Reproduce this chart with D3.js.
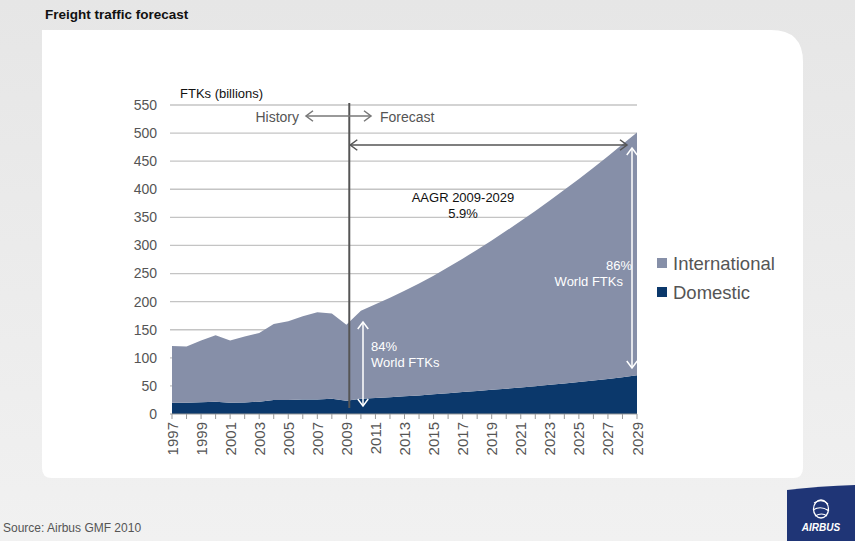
<!DOCTYPE html>
<html><head><meta charset="utf-8">
<script src="https://cdn.jsdelivr.net/npm/d3@7"></script>
<style>
html,body{margin:0;padding:0;}
body{width:855px;height:541px;overflow:hidden;font-family:"Liberation Sans",Arial,sans-serif;}
</style></head>
<body><svg id="c" width="855" height="541"></svg>
<script>
const years = d3.range(1997, 2030);
const domestic = [20,20,21,22,20,20.5,22,25,25,26,26,27,23.5,
  27,28.5,30,31.5,33,35,37,39,41,43,45,47,49.5,52,54.5,57,59.5,62.5,65.5,69];
const international = [101,100,110,118,111,117.5,122,135,140,148,155,152,135.5,
  157,167,177,188,199.5,211,224,237.5,251.5,266,281,296.5,312,328,344.5,361.5,379,396.5,414.5,432];
const yTicks = d3.range(0, 551, 50);
const xTickLabels = d3.range(1997, 2030, 2);
const seriesNames = ["International", "Domestic"];
const colors = {International: "#868fa8", Domestic: "#0b386b"};

const svg = d3.select("#c");
const defs = svg.append("defs");
const bg = defs.append("linearGradient").attr("id","bg").attr("x1",0).attr("y1",0).attr("x2",0).attr("y2",1);
bg.append("stop").attr("offset","0%").attr("stop-color","#e6e6e6");
bg.append("stop").attr("offset","100%").attr("stop-color","#f1f1f1");
svg.append("rect").attr("width",855).attr("height",541).attr("fill","url(#bg)");

// panel
const pL=42, pT=30, pR=803, pB=478, rTR=32, rB=10;
svg.append("path").attr("fill","#ffffff")
  .attr("d",`M${pL},${pT} L${pR-rTR},${pT} Q${pR},${pT} ${pR},${pT+rTR} L${pR},${pB-rB} Q${pR},${pB} ${pR-rB},${pB} L${pL+rB},${pB} Q${pL},${pB} ${pL},${pB-rB} Z`);

svg.append("text").attr("x",45).attr("y",19).attr("font-size",13.5).attr("font-weight","bold")
  .attr("fill","#111").text("Freight traffic forecast");

const x = d3.scaleLinear().domain([1997,2029]).range([172,637]);
const y = d3.scaleLinear().domain([0,550]).range([414,105]);

// gridlines
svg.append("g").selectAll("line").data(yTicks.filter(d=>d>0)).join("line")
  .attr("x1",170).attr("x2",637).attr("y1",d=>y(d)).attr("y2",d=>y(d))
  .attr("stroke","#c4c4c4").attr("stroke-width",1.3);

// stacked areas
const data = years.map((yr,i)=>({year:yr, Domestic:domestic[i], International:international[i]}));
const stack = d3.stack().keys(["Domestic","International"]);
const stacked = stack(data);
const area = d3.area().x(d=>x(d.data.year)).y0(d=>y(d[0])).y1(d=>y(d[1]));
svg.append("g").selectAll("path").data(stacked).join("path")
  .attr("d",area).attr("fill",d=>colors[d.key]);

// y axis labels
svg.append("g").selectAll("text").data(yTicks).join("text")
  .attr("x",157).attr("y",d=>y(d)).attr("dy","0.35em").attr("text-anchor","end")
  .attr("font-size",14).attr("fill","#555").text(d=>d);

// x axis
const xAxisG = svg.append("g");
xAxisG.append("line").attr("x1",170).attr("x2",637).attr("y1",y(0)).attr("y2",y(0)).attr("stroke","#999");
xAxisG.selectAll("line.t").data(years).join("line").attr("class","t")
  .attr("x1",d=>x(d)).attr("x2",d=>x(d)).attr("y1",y(0)).attr("y2",y(0)+5).attr("stroke","#999");
xAxisG.selectAll("text").data(xTickLabels).join("text")
  .attr("transform",d=>`translate(${x(d)+5.5},${y(0)+8}) rotate(-90)`)
  .attr("text-anchor","end").attr("font-size",15).attr("fill","#555").text(d=>d);

// axis title
svg.append("text").attr("x",180).attr("y",98).attr("font-size",13).attr("fill","#111").text("FTKs (billions)");

// divider line
const divX = x(2009.2);
svg.append("line").attr("x1",divX).attr("x2",divX).attr("y1",103).attr("y2",y(0)-6)
  .attr("stroke","#555").attr("stroke-width",2);

function chevH(g, xp, yp, dir, color, s){
  g.append("path").attr("d",`M${xp-dir*s},${yp-s*0.75} L${xp},${yp} L${xp-dir*s},${yp+s*0.75}`)
   .attr("fill","none").attr("stroke",color).attr("stroke-width",1.5);
}
function chevV(g, xp, yp, dir, color, s){
  g.append("path").attr("d",`M${xp-s*0.75},${yp-dir*s} L${xp},${yp} L${xp+s*0.75},${yp-dir*s}`)
   .attr("fill","none").attr("stroke",color).attr("stroke-width",1.5);
}
const ann = svg.append("g");
ann.append("text").attr("x",299).attr("y",122).attr("text-anchor","end").attr("font-size",14).attr("fill","#555").text("History");
ann.append("line").attr("x1",306).attr("x2",371).attr("y1",116).attr("y2",116).attr("stroke","#777").attr("stroke-width",1.5);
chevH(ann,306,116,-1,"#777",7); chevH(ann,371,116,1,"#777",7);
ann.append("text").attr("x",380).attr("y",122).attr("font-size",14).attr("fill","#555").text("Forecast");

ann.append("line").attr("x1",divX+1).attr("x2",627).attr("y1",145).attr("y2",145).attr("stroke","#555").attr("stroke-width",1.5);
chevH(ann,divX+1,145,-1,"#555",7); chevH(ann,627,145,1,"#555",7);
ann.append("text").attr("x",463).attr("y",202).attr("text-anchor","middle").attr("font-size",13).attr("fill","#111").text("AAGR 2009-2029");
ann.append("text").attr("x",463).attr("y",218).attr("text-anchor","middle").attr("font-size",13).attr("fill","#111").text("5.9%");

ann.append("line").attr("x1",363).attr("x2",363).attr("y1",322).attr("y2",406).attr("stroke","#fff").attr("stroke-width",1.5);
chevV(ann,363,322,-1,"#fff",7); chevV(ann,363,406,1,"#fff",7);
ann.append("text").attr("x",371).attr("y",351).attr("font-size",13).attr("fill","#fff").text("84%");
ann.append("text").attr("x",371).attr("y",367).attr("font-size",13).attr("fill","#fff").text("World FTKs");

ann.append("line").attr("x1",632).attr("x2",632).attr("y1",148).attr("y2",368).attr("stroke","#fff").attr("stroke-width",1.5);
chevV(ann,632,148,-1,"#fff",7); chevV(ann,632,368,1,"#fff",7);
ann.append("text").attr("x",619).attr("y",270).attr("text-anchor","middle").attr("font-size",13).attr("fill","#fff").text("86%");
ann.append("text").attr("x",623).attr("y",286).attr("text-anchor","end").attr("font-size",13).attr("fill","#fff").text("World FTKs");

// legend
const leg = svg.append("g").attr("transform","translate(657,258)");
leg.selectAll("g").data(seriesNames).join("g")
  .attr("transform",(d,i)=>`translate(0,${i*29})`)
  .each(function(d){
    const g=d3.select(this);
    g.append("rect").attr("width",10).attr("height",10).attr("fill",colors[d]);
    g.append("text").attr("x",16).attr("y",12).attr("font-size",18.5).attr("fill","#555").text(d);
  });

svg.append("text").attr("x",3).attr("y",532).attr("font-size",12).attr("fill","#555").text("Source: Airbus GMF 2010");

// logo
const logo = svg.append("g");
logo.append("path").attr("d","M787,490 Q820,486 855,485 L855,541 L787,541 Z").attr("fill","#1f3576");
logo.append("ellipse").attr("cx",821).attr("cy",509).attr("rx",7.5).attr("ry",9).attr("fill","none").attr("stroke","#fff").attr("stroke-width",1.3);
logo.append("path").attr("d","M814,503 Q822,498 828,504 M813,510 Q821,505 829,511 M815,516 Q822,512 827,516").attr("fill","none").attr("stroke","#fff").attr("stroke-width",1.1);
logo.append("text").attr("x",821).attr("y",531).attr("text-anchor","middle").attr("font-size",10).attr("font-weight","bold").attr("font-style","italic").attr("fill","#fff").text("AIRBUS");
</script></body></html>
